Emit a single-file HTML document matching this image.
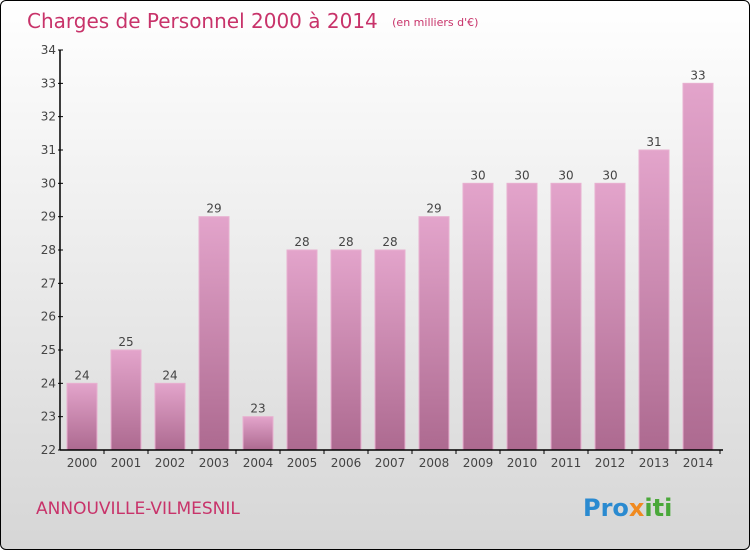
<!DOCTYPE html>
<html><head><meta charset="utf-8"><style>
body{margin:0;}
#wrap{width:748px;height:548px;border:1px solid #000;border-radius:6px;overflow:hidden;background:linear-gradient(#ffffff,#d6d6d6);position:relative;font-family:"DejaVu Sans","Liberation Sans",sans-serif;}
svg text{font-family:"DejaVu Sans","Liberation Sans",sans-serif;}
</style></head><body>
<div id="wrap">
<svg id="chart" width="748" height="548">
<defs><linearGradient id="bg" x1="0" y1="0" x2="0" y2="1"><stop offset="0" stop-color="#e3a4cb"/><stop offset="1" stop-color="#ad6a90"/></linearGradient></defs>
<text x="26" y="27" font-size="20" fill="#c8336a">Charges de Personnel 2000 à 2014 <tspan font-size="11" dx="8" dy="-2">(en milliers d'€)</tspan></text>
<text x="35" y="513" font-size="17" fill="#c8336a">ANNOUVILLE-VILMESNIL</text>
<text x="582" y="515" font-size="24" font-weight="bold" fill="#2a8ad0">Pro<tspan fill="#f08a20">x</tspan><tspan fill="#4aa83a">iti</tspan></text>
<g id="plot"></g>
</svg>
</div>
<script>
const years=["2000","2001","2002","2003","2004","2005","2006","2007","2008","2009","2010","2011","2012","2013","2014"];
const values=[24,25,24,29,23,28,28,28,29,30,30,30,30,31,33];
const yTicks=[22,23,24,25,26,27,28,29,30,31,32,33,34];
const NS="http://www.w3.org/2000/svg";
const g=document.getElementById('plot');
const x0=59,yMin=22,yMax=34,py0=449,py1=49;
const y=v=>py0-(v-yMin)/(yMax-yMin)*(py0-py1);
const step=44, xc=i=>x0+22+i*step;
function mk(t,a){const e=document.createElementNS(NS,t);for(const k in a)e.setAttribute(k,a[k]);g.appendChild(e);return e;}
values.forEach((v,i)=>{
 const r=mk('rect',{x:xc(i)-15,y:y(v),width:30,height:py0-y(v),fill:'url(#bg)',stroke:'#e8b0d0','stroke-width':1});
 
 
 const t=mk('text',{x:xc(i),y:y(v)-4,'text-anchor':'middle','font-size':12,fill:'#444'});t.textContent=v;
 
 
 const xl=mk('text',{x:xc(i),y:466,'text-anchor':'middle','font-size':12,fill:'#444'});xl.textContent=years[i];
 
 
 mk('line',{x1:xc(i)+22,x2:xc(i)+22,y1:py0,y2:py0+4,stroke:'#000'});
});
yTicks.forEach(v=>{
 mk('line',{x1:x0-2,x2:x0+3,y1:y(v),y2:y(v),stroke:'#000'});
 const t=mk('text',{x:x0-4,y:y(v)+4,'text-anchor':'end','font-size':12,fill:'#444'});t.textContent=v;
 
 
});
const ya=mk('line',{x1:x0,x2:x0,y1:py1,y2:py0,stroke:'#000','stroke-width':1.5});


const xa=mk('line',{x1:x0,x2:722,y1:py0,y2:py0,stroke:'#000','stroke-width':1.5});


</script>
</body></html>
